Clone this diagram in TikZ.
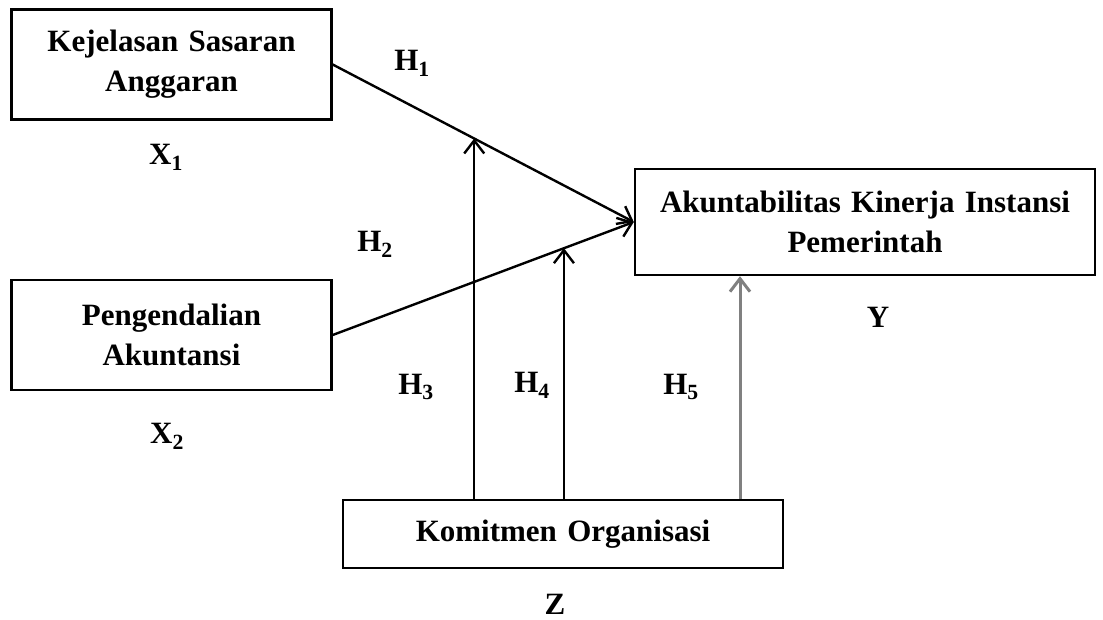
\documentclass[tikz,border=0pt]{standalone}
\usepackage{fontspec}
\setmainfont{Liberation Serif}
\usetikzlibrary{arrows.meta}

\begin{document}
\begin{tikzpicture}[x=1pt,y=-1pt,
  >={Straight Barb[length=13pt,width=20pt]},
  kotak/.style={draw, line width=2.4pt, rectangle, inner sep=0pt, align=center},
  label/.style={inner sep=0pt},
  panah/.style={draw, line width=2.4pt, ->}]
\fontsize{31}{40}\selectfont\bfseries
\useasboundingbox (0,0) rectangle (1103,619);
\node[kotak, text width=320pt, minimum height=110pt] (x1) at (171.5,64.5) {Kejelasan Sasaran\\Anggaran};
\node[kotak, text width=320pt, minimum height=110pt] (x2) at (171.5,335) {Pengendalian\\Akuntansi};
\node[kotak, text width=460pt, minimum height=106pt] (y) at (865,222) {Akuntabilitas Kinerja Instansi\\Pemerintah};
\node[kotak, text width=440pt, minimum height=68pt] (z) at (563,534) {Komitmen Organisasi};
\path[panah] (x1.east) -- (y.west) coordinate[pos=0.47] (m1);
\path[panah] (x2.east) -- (y.west) coordinate[pos=0.768] (m2);
\path[panah] (z.north -| m1) -- (m1);
\path[panah] (z.north -| m2) -- (m2);
\path[panah, draw=gray, line width=3pt] ([xshift=177pt]z.north) -- ([xshift=177pt]z.north |- y.south);
\node[label] (h1) at (412,63) {H\textsubscript{1}};
\node[label] (h2) at (375,244) {H\textsubscript{2}};
\node[label] (h3) at (416,387) {H\textsubscript{3}};
\node[label] (h4) at (532,385) {H\textsubscript{4}};
\node[label] (h5) at (681,387) {H\textsubscript{5}};
\node[label] (lx1) at (166,157) {X\textsubscript{1}};
\node[label] (lx2) at (167,436) {X\textsubscript{2}};
\node[label] (ly) at (878,317) {Y};
\node[label] (lz) at (555,604) {Z};
\end{tikzpicture}
\end{document}
